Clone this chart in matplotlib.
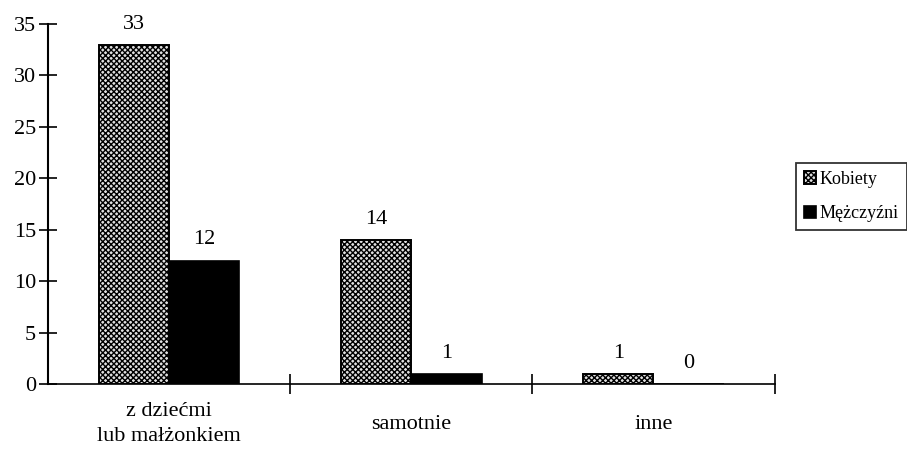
import numpy as np
import matplotlib
matplotlib.use('Agg')
import matplotlib.pyplot as plt

categories = ['z dziećmi\nlub małżonkiem', 'samotnie', 'inne']
kobiety = [33, 14, 1]
mezczyzni = [12, 1, 0]
series_names = ['Kobiety', 'Mężczyźni']

plt.rcParams['font.family'] = ['Liberation Serif', 'DejaVu Serif']
plt.rcParams['hatch.linewidth'] = 1.0
plt.rcParams['hatch.color'] = '#2a2a2a'

fig = plt.figure(figsize=(9.07, 4.51), dpi=100)
ax = fig.add_axes([0.053, 0.1486, 0.801, 0.798])

x = np.arange(len(categories))
w = 0.29
b1 = ax.bar(x - w / 2, kobiety, w, facecolor='#e0e0e0', edgecolor='black',
            hatch='xxxxxx', linewidth=1.4, label=series_names[0])
b2 = ax.bar(x + w / 2, mezczyzni, w, facecolor='black', edgecolor='black',
            linewidth=1.2, label=series_names[1])

for bars, vals in ((b1, kobiety), (b2, mezczyzni)):
    for r, v in zip(bars, vals):
        ax.annotate(str(v), (r.get_x() + r.get_width() / 2, v),
                    xytext=(0, 8), textcoords='offset points',
                    ha='center', va='bottom', fontsize=16)

ax.set_xlim(-0.5, 2.5)
ax.set_ylim(0, 35)
ax.set_yticks(np.arange(0, 36, 5))
ax.set_xticks([0.5, 1.5, 2.5])
ax.set_xticklabels([])
ax.set_xticks(x, minor=True)
ax.set_xticklabels(categories, minor=True, fontsize=16, va='center',
                   linespacing=1.4)
ax.tick_params(axis='x', which='minor', length=0, pad=29)
ax.tick_params(axis='x', which='major', direction='inout', length=14, width=1.2)
ax.tick_params(axis='y', direction='inout', length=13, width=1.2, labelsize=16, pad=2)

for s in ('top', 'right'):
    ax.spines[s].set_visible(False)
ax.spines['left'].set_linewidth(1.5)
ax.spines['bottom'].set_linewidth(1.2)

leg = ax.legend(loc='upper right', bbox_to_anchor=(1.0, 1 - 163 / 451),
                bbox_transform=fig.transFigure, fontsize=13, frameon=True,
                fancybox=False, edgecolor='black', handlelength=0.7,
                handleheight=0.7, handletextpad=0.2, borderpad=0.45,
                labelspacing=0.95, borderaxespad=0)
leg.get_frame().set_linewidth(1.3)

fig.savefig('out.png', dpi=100)
